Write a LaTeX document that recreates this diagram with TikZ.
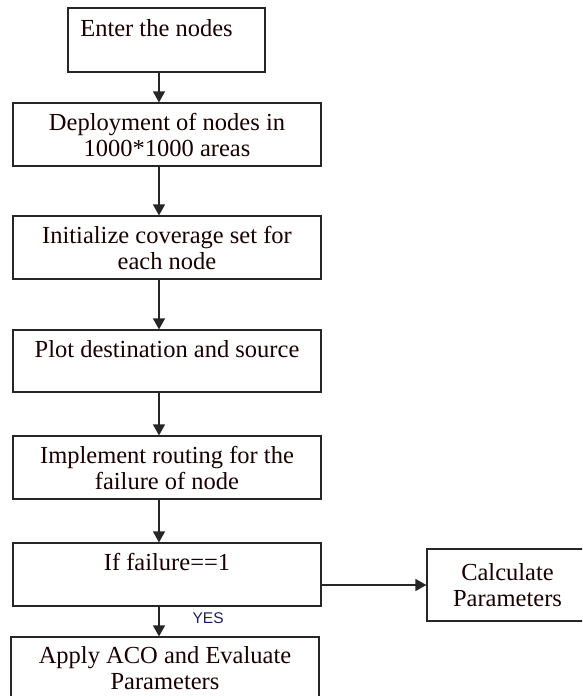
\documentclass[tikz,border=0pt]{standalone}
\usepackage{fontspec}
\setmainfont{Liberation Serif}
\newfontfamily\yesfont{Liberation Sans}
\usetikzlibrary{arrows.meta}
\definecolor{boxline}{rgb}{0.15,0.15,0.15}
\definecolor{yescol}{rgb}{0.12,0.12,0.35}
\newcommand{\topstrut}{\rule{0pt}{18pt}}
\begin{document}
\begin{tikzpicture}[x=1pt,y=-1pt,
  flowbox/.style={draw=boxline, line width=1.2pt, rectangle, align=center,
    font=\fontsize{24.5}{26}\selectfont, inner sep=0pt, text=black!90!red},
  arr/.style={draw=boxline, line width=1.2pt, -{Triangle[length=11pt,width=12pt]}}]
\useasboundingbox (0,0) rectangle (582,696);
\clip (0,0) rectangle (582,696);
\node[flowbox, minimum width=197pt, minimum height=64pt] (b1) at (166.5,40)
  {\hspace*{-20pt}\topstrut Enter the nodes\\\mbox{}};
\node[flowbox, minimum width=308pt, minimum height=63pt] (b2) at (167,134.5)
  {\topstrut Deployment of nodes in\\1000*1000 areas};
\node[flowbox, minimum width=308pt, minimum height=63pt] (b3) at (167,247.5)
  {\topstrut Initialize coverage set for\\each node};
\node[flowbox, minimum width=308pt, minimum height=62pt] (b4) at (167,361)
  {\topstrut Plot destination and source\\\mbox{}};
\node[flowbox, minimum width=308pt, minimum height=63pt] (b5) at (167,467.5)
  {\topstrut Implement routing for the\\failure of node};
\node[flowbox, minimum width=308pt, minimum height=63pt] (b6) at (167,574.5)
  {\topstrut If failure==1\\\mbox{}};
\node[flowbox, minimum width=308pt, minimum height=62pt] (b7) at (165,668)
  {\topstrut Apply ACO and Evaluate\\Parameters};
\node[flowbox, minimum width=161pt, minimum height=72pt] (b8) at (507.5,585)
  {\topstrut Calculate\\Parameters};
\coordinate (ax) at (159,0);
\draw[arr] (b1.south -| ax) -- (b2.north -| ax);
\draw[arr] (b2.south -| ax) -- (b3.north -| ax);
\draw[arr] (b3.south -| ax) -- (b4.north -| ax);
\draw[arr] (b4.south -| ax) -- (b5.north -| ax);
\draw[arr] (b5.south -| ax) -- (b6.north -| ax);
\draw[arr] (b6.south -| ax) -- (b7.north -| ax)
  node[pos=0.4, right=33pt, font=\yesfont\fontsize{15.5}{18}\selectfont, text=yescol, inner sep=0pt] (yes) {YES};
\draw[arr] (b6.east |- b8.west) -- (b8.west);
\end{tikzpicture}
\end{document}
